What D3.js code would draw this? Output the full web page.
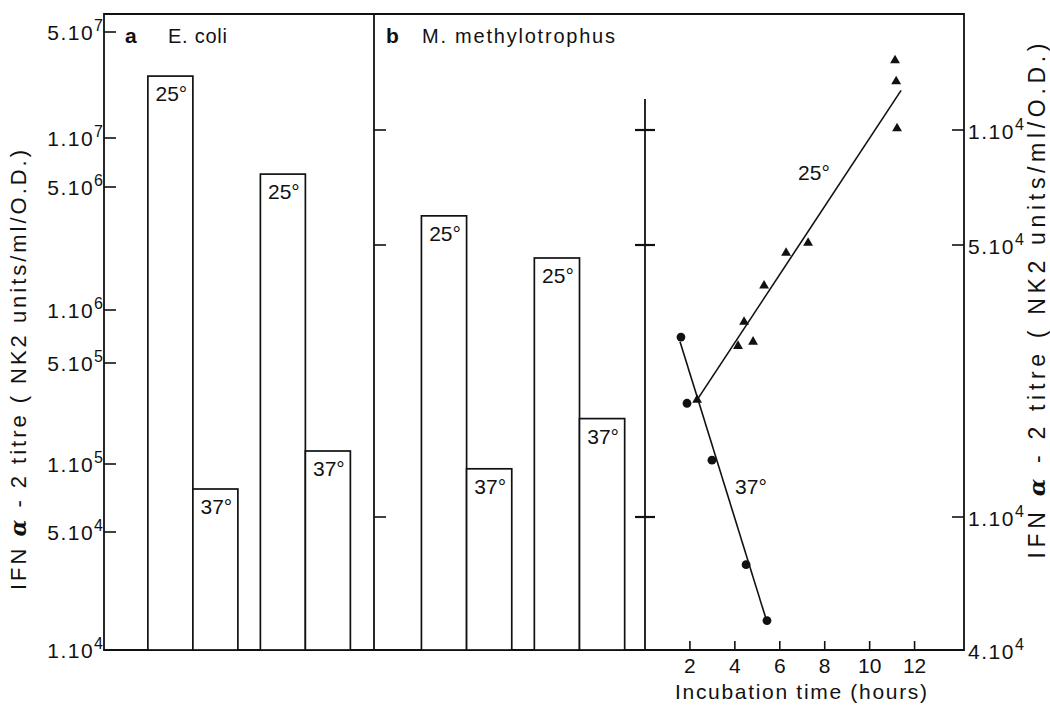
<!DOCTYPE html>
<html><head><meta charset="utf-8">
<script src="https://cdn.jsdelivr.net/npm/d3@7"></script>
<style>
body{margin:0;background:#fff}
text{font-family:"Liberation Sans",Arial,sans-serif;fill:#111}
</style>
</head><body>
<svg id="c" width="1050" height="707"></svg>
<script>
// ---------- data ----------
const groups = ["1", "2"];
const temps = ["25°", "37°"];
const ecoliTitre25 = [2.56e7, 6.0e6];
const ecoliTitre37 = [7.75e4, 1.23e5];
const methylTitre25 = [5.96e5, 4.63e5];
const methylTitre37 = [1.33e5, 1.79e5];

const leftTicks = [1e4, 5e4, 1e5, 5e5, 1e6, 5e6, 1e7, 5e7];
const leftTickMain = ["1.10", "5.10", "1.10", "5.10", "1.10", "5.10", "1.10", "5.10"];
const leftTickSup = ["4", "4", "5", "5", "6", "6", "7", "7"];
const rightTicks = [4e4, 1e5, 5e5, 1e6];
const rightTickMain = ["4.10", "1.10", "5.10", "1.10"];
const rightTickSup = ["4", "4", "4", "4"];
const hourTicks = [2, 4, 6, 8, 10, 12];

const hours37 = [1.60, 1.87, 2.98, 4.50, 5.43];
const titre37 = [2.9e5, 1.96e5, 1.4e5, 7.2e4, 4.9e4];
const hours25 = [2.32, 4.14, 4.41, 4.81, 5.30, 6.28, 7.26, 11.13, 11.18, 11.22];
const titre25 = [2.0e5, 2.75e5, 3.17e5, 2.82e5, 3.93e5, 4.77e5, 5.06e5, 1.52e6, 1.34e6, 1.01e6];
const fitHours25 = [2.32, 11.40];
const fitTitre25 = [2.0e5, 1.27e6];
const fitHours37 = [1.56, 5.39];
const fitTitre37 = [2.82e5, 4.95e4];

// ---------- layout ----------
const L = {left: 104, mid: 374, axis2: 645, right: 964, top: 14, bottom: 650, axis2Top: 99};
const leftTickPos = [650, 532, 464, 363, 310, 187, 138, 32];   // hand-drawn, irregular log axis
const rightTickPos = [650, 517, 245, 130];
const ink = "#111";

const svg = d3.select("#c");

// scales (piecewise log, following the drawn axes)
const yA = d3.scaleLog().domain(leftTicks).range(leftTickPos);
const yB = d3.scaleLog().domain(rightTicks).range(rightTickPos);
const xT = d3.scaleLinear().domain([0, 14.2]).range([L.axis2, L.right]);

const gA = d3.scaleBand().domain(groups).range([L.left, L.mid]).paddingInner(0.2).paddingOuter(0.3).align(0.65);
const gB = d3.scaleBand().domain(groups).range([L.mid, L.axis2]).paddingInner(0.2).paddingOuter(0.3).align(0.7);

// ---------- frame ----------
svg.append("path")
  .attr("d", `M${L.left},${L.top}H${L.right}V${L.bottom}H${L.left}Z`)
  .attr("fill", "none").attr("stroke", ink).attr("stroke-width", 1.8);
svg.append("line").attr("x1", L.mid).attr("x2", L.mid).attr("y1", L.top).attr("y2", L.bottom)
  .attr("stroke", ink).attr("stroke-width", 1.8);
svg.append("line").attr("x1", L.axis2).attr("x2", L.axis2).attr("y1", L.axis2Top).attr("y2", L.bottom)
  .attr("stroke", ink).attr("stroke-width", 1.8);

// ---------- bars ----------
function drawBars(gScale, yScale, v25, v37) {
  const inner = d3.scaleBand().domain(temps).range([0, gScale.bandwidth()]);
  const rows = [];
  groups.forEach((g, i) => {
    rows.push({g, t: temps[0], v: v25[i]});
    rows.push({g, t: temps[1], v: v37[i]});
  });
  const bars = svg.append("g");
  bars.selectAll("rect").data(rows).join("rect")
    .attr("x", d => gScale(d.g) + inner(d.t))
    .attr("width", inner.bandwidth())
    .attr("y", d => yScale(d.v))
    .attr("height", d => L.bottom - yScale(d.v))
    .attr("fill", "#fff").attr("stroke", ink).attr("stroke-width", 1.7);
  bars.selectAll("text").data(rows).join("text")
    .attr("x", d => gScale(d.g) + inner(d.t) + inner.bandwidth() / 2 + 1)
    .attr("y", d => yScale(d.v) + 25)
    .attr("text-anchor", "middle").attr("font-size", 21)
    .text(d => d.t);
}
drawBars(gA, yA, ecoliTitre25, ecoliTitre37);
drawBars(gB, yB, methylTitre25, methylTitre37);

// ---------- ticks ----------
const tickG = svg.append("g").attr("stroke", ink).attr("stroke-width", 1.6);
leftTicks.slice(1).forEach(t => {
  tickG.append("line").attr("x1", L.left).attr("x2", L.left + 12).attr("y1", yA(t)).attr("y2", yA(t));
});
rightTicks.slice(1).forEach(t => {
  tickG.append("line").attr("x1", L.mid).attr("x2", L.mid + 12).attr("y1", yB(t)).attr("y2", yB(t));
  tickG.append("line").attr("x1", L.axis2 - 10).attr("x2", L.axis2 + 10).attr("y1", yB(t)).attr("y2", yB(t)).attr("stroke-width", 2.2);
  tickG.append("line").attr("x1", L.right - 12).attr("x2", L.right).attr("y1", yB(t)).attr("y2", yB(t));
});
hourTicks.forEach(h => {
  tickG.append("line").attr("x1", xT(h)).attr("x2", xT(h)).attr("y1", L.bottom).attr("y2", L.bottom - 9);
});

// ---------- tick labels ----------
function powLabel(x, y, main, sup, anchor) {
  const t = svg.append("text").attr("x", x).attr("y", y).attr("text-anchor", anchor)
    .attr("font-size", 21).attr("letter-spacing", 1.5);
  t.append("tspan").text(main);
  t.append("tspan").attr("dy", -9).attr("font-size", 16).attr("letter-spacing", 0).text(sup);
}
leftTicks.forEach((t, i) => powLabel(L.left - 1, yA(t) + 8, leftTickMain[i], leftTickSup[i], "end"));
rightTicks.forEach((t, i) => powLabel(L.right + 4, yB(t) + 9, rightTickMain[i], rightTickSup[i], "start"));

svg.append("g").selectAll("text").data(hourTicks).join("text")
  .attr("x", d => xT(d)).attr("y", 673).attr("text-anchor", "middle").attr("font-size", 21)
  .text(d => d);
svg.append("text").attr("x", 801).attr("y", 699).attr("text-anchor", "middle")
  .attr("font-size", 21).attr("textLength", 252).attr("lengthAdjust", "spacing")
  .text("Incubation time (hours)");

// ---------- axis titles ----------
function yTitle(x, cy, len, size) {
  const t = svg.append("text").attr("transform", `translate(${x},${cy}) rotate(-90)`)
    .attr("text-anchor", "middle").attr("font-size", size)
    .attr("textLength", len).attr("lengthAdjust", "spacing");
  t.append("tspan").text("IFN ");
  t.append("tspan").attr("font-style", "italic").attr("font-weight", "bold").attr("font-family", "DejaVu Serif").text("α");
  t.append("tspan").text(" - 2 titre ( NK2 units/ml/O.D.)");
}
yTitle(26, 370, 440, 22);
yTitle(1045, 301, 515, 23);

// ---------- panel titles ----------
svg.append("text").attr("x", 125).attr("y", 43).attr("font-size", 21).attr("font-weight", "bold").text("a");
svg.append("text").attr("x", 168).attr("y", 43).attr("font-size", 20).attr("textLength", 59)
  .attr("lengthAdjust", "spacing").text("E. coli");
svg.append("text").attr("x", 386).attr("y", 43).attr("font-size", 21).attr("font-weight", "bold").text("b");
svg.append("text").attr("x", 422).attr("y", 43).attr("font-size", 20).attr("textLength", 193)
  .attr("lengthAdjust", "spacing").text("M. methylotrophus");

// ---------- time course ----------
const line = d3.line().x(d => xT(d[0])).y(d => yB(d[1]));
svg.append("path").datum(d3.zip(fitHours25, fitTitre25)).attr("d", line)
  .attr("fill", "none").attr("stroke", ink).attr("stroke-width", 1.6);
svg.append("path").datum(d3.zip(fitHours37, fitTitre37)).attr("d", line)
  .attr("fill", "none").attr("stroke", ink).attr("stroke-width", 1.6);

svg.append("g").selectAll("circle").data(d3.zip(hours37, titre37)).join("circle")
  .attr("cx", d => xT(d[0])).attr("cy", d => yB(d[1])).attr("r", 4.4).attr("fill", ink);
svg.append("g").selectAll("path").data(d3.zip(hours25, titre25)).join("path")
  .attr("transform", d => `translate(${xT(d[0])},${yB(d[1])})`)
  .attr("d", d3.symbol(d3.symbolTriangle, 42)).attr("fill", ink);

svg.append("text").attr("x", 814).attr("y", 180).attr("text-anchor", "middle").attr("font-size", 21).text("25°");
svg.append("text").attr("x", 751).attr("y", 494).attr("text-anchor", "middle").attr("font-size", 21).text("37°");
</script>
</body></html>
